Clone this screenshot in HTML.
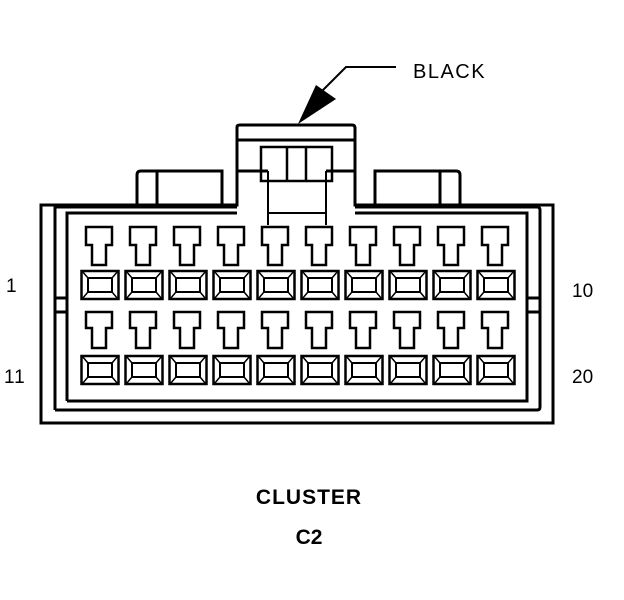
<!DOCTYPE html>
<html><head><meta charset="utf-8"><style>
html,body{margin:0;padding:0;background:#fff;}
svg{display:block}
text{font-family:"Liberation Sans",Arial,sans-serif;fill:#000}
</style></head><body>
<svg width="624" height="600" viewBox="0 0 624 600" xmlns="http://www.w3.org/2000/svg">
<defs>
<g id="box" fill="none" stroke="#000">
<rect x="-18.5" y="0" width="37" height="28" stroke-width="2.5"/>
<rect x="-12" y="7" width="24" height="14" stroke-width="2"/>
<path d="M-18,0 L-12,7 M18,0 L12,7 M-18,28 L-12,21 M18,28 L12,21" stroke-width="1.5"/>
</g>
<path id="tab1" d="M-13,0 H13 V18 H7 V38 H-7 V18 H-13 Z" fill="none" stroke="#000" stroke-width="2.5"/>
<path id="tab2" d="M-13,0 H13 V16 H7 V36 H-7 V16 H-13 Z" fill="none" stroke="#000" stroke-width="2.5"/>
</defs>
<g fill="none" stroke="#000" stroke-width="3">
<path d="M41,423 V205 H237 V127 Q237,125 240,125 H352 Q355,125 355,128 V205 H553 V423 Z"/>
<path d="M55,410 V207 H237"/>
<path d="M355,207 H537 Q540,207 540,210 V407 Q540,410 537,410 H55"/>
<path d="M67,401 V213 H237 M355,213 H527 V401 H67"/>
<path d="M55,298 H67 M55,312 H67 M527,298 H540 M527,312 H540"/>
<path d="M237,140 H355"/>
<path d="M237,171 H268 M326,171 H355"/>
<rect x="261" y="147" width="71" height="34" stroke-width="2.5"/>
<path d="M287,147 V181 M306,147 V181" stroke-width="2.5"/>
<path d="M268,171 V225 M326,171 V225 M268,213 H326" stroke-width="2"/>
<path d="M137,205 V175 Q137,171 141,171 H222 V205 M157,171 V205"/>
<path d="M375,205 V171 H456 Q460,171 460,175 V205 M440,171 V205"/>
<path d="M396,67 H346 L318,95" stroke-width="2"/>
</g>
<path d="M298,124 L316,85 L336,99 Z" fill="#000"/>
<g>
<use href="#tab1" x="99" y="227"/><use href="#tab1" x="143" y="227"/><use href="#tab1" x="187" y="227"/><use href="#tab1" x="231" y="227"/><use href="#tab1" x="275" y="227"/><use href="#tab1" x="319" y="227"/><use href="#tab1" x="363" y="227"/><use href="#tab1" x="407" y="227"/><use href="#tab1" x="451" y="227"/><use href="#tab1" x="495" y="227"/>
<use href="#box" x="100" y="271"/><use href="#box" x="144" y="271"/><use href="#box" x="188" y="271"/><use href="#box" x="232" y="271"/><use href="#box" x="276" y="271"/><use href="#box" x="320" y="271"/><use href="#box" x="364" y="271"/><use href="#box" x="408" y="271"/><use href="#box" x="452" y="271"/><use href="#box" x="496" y="271"/>
<use href="#tab2" x="99" y="312"/><use href="#tab2" x="143" y="312"/><use href="#tab2" x="187" y="312"/><use href="#tab2" x="231" y="312"/><use href="#tab2" x="275" y="312"/><use href="#tab2" x="319" y="312"/><use href="#tab2" x="363" y="312"/><use href="#tab2" x="407" y="312"/><use href="#tab2" x="451" y="312"/><use href="#tab2" x="495" y="312"/>
<use href="#box" x="100" y="356"/><use href="#box" x="144" y="356"/><use href="#box" x="188" y="356"/><use href="#box" x="232" y="356"/><use href="#box" x="276" y="356"/><use href="#box" x="320" y="356"/><use href="#box" x="364" y="356"/><use href="#box" x="408" y="356"/><use href="#box" x="452" y="356"/><use href="#box" x="496" y="356"/>
</g>
<text x="413" y="78" font-size="20" letter-spacing="1.5">BLACK</text>
<text x="6" y="292" font-size="19">1</text>
<text x="4" y="383" font-size="19" letter-spacing="1">11</text>
<text x="572" y="297" font-size="19">10</text>
<text x="572" y="383" font-size="19">20</text>
<text x="309" y="504" font-size="21" font-weight="bold" text-anchor="middle" letter-spacing="1">CLUSTER</text>
<text x="309" y="544" font-size="21" font-weight="bold" text-anchor="middle">C2</text>
</svg>
</body></html>
